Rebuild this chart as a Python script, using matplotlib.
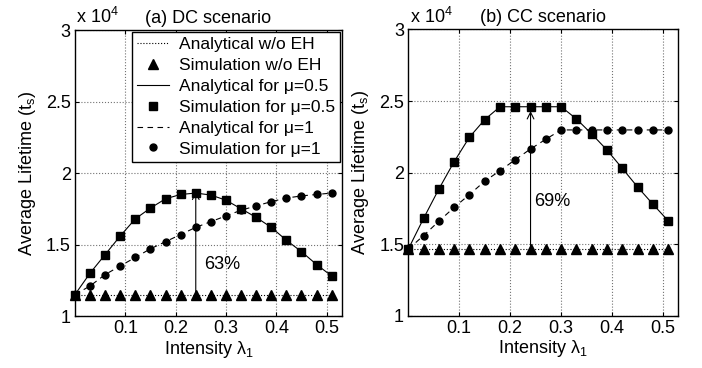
import matplotlib
matplotlib.use("Agg")
import matplotlib.pyplot as plt
import matplotlib.ticker as mticker
import numpy as np

plt.rcParams.update({
    "font.family": ["Liberation Sans", "DejaVu Sans"],
    "font.size": 13,
    "mathtext.fontset": "custom",
    "mathtext.rm": "Liberation Sans",
    "mathtext.it": "Liberation Sans",
})

# intensity lambda_1
lam = [0.00, 0.03, 0.06, 0.09, 0.12, 0.15, 0.18, 0.21, 0.24,
       0.27, 0.30, 0.33, 0.36, 0.39, 0.42, 0.45, 0.48, 0.51]

# (a) DC scenario, lifetime x 1e4
dc_no_eh = [1.15] * 18
dc_mu05 = [1.15, 1.30, 1.43, 1.56, 1.68, 1.755, 1.82, 1.85, 1.86,
           1.846, 1.81, 1.75, 1.69, 1.62, 1.53, 1.45, 1.36, 1.28]
dc_mu1 = [1.15, 1.21, 1.29, 1.35, 1.41, 1.47, 1.52, 1.57, 1.62,
          1.66, 1.70, 1.74, 1.77, 1.80, 1.825, 1.84, 1.85, 1.86]

# (b) CC scenario, lifetime x 1e4
cc_no_eh = [1.465] * 18
cc_mu05 = [1.465, 1.68, 1.885, 2.076, 2.247, 2.37, 2.46, 2.46, 2.46,
           2.46, 2.46, 2.375, 2.27, 2.158, 2.03, 1.90, 1.78, 1.664]
cc_mu1 = [1.465, 1.56, 1.66, 1.757, 1.846, 1.94, 2.013, 2.09, 2.165,
          2.233, 2.298, 2.298, 2.298, 2.298, 2.298, 2.298, 2.298, 2.298]

legend_labels = ["Analytical w/o EH", "Simulation w/o EH",
                 "Analytical for \u03bc=0.5", "Simulation for \u03bc=0.5",
                 "Analytical for \u03bc=1", "Simulation for \u03bc=1"]

fig = plt.figure(figsize=(7.02, 3.68), dpi=100)
ax1 = fig.add_axes([0.1068, 0.1413, 0.380, 0.777])
ax2 = fig.add_axes([0.5816, 0.1420, 0.3846, 0.778])


def draw(ax, no_eh, mu05, mu1, title, arrow_top, pct, pct_xy):
    h1, = ax.plot(lam, no_eh, ":", color="k", linewidth=0.8)
    h2, = ax.plot(lam, no_eh, "^", color="k", markersize=7, linestyle="none",
                  clip_on=False, zorder=4)
    h3, = ax.plot(lam, mu05, "-", color="k", linewidth=0.8)
    h4, = ax.plot(lam, mu05, "s", color="k", markersize=5.5, linestyle="none",
                  clip_on=False, zorder=4)
    h5, = ax.plot(lam, mu1, "--", color="k", linewidth=0.8, dashes=(5, 4))
    h6, = ax.plot(lam, mu1, "o", color="k", markersize=5, linestyle="none",
                  clip_on=False, zorder=4)

    ax.annotate("", xy=(0.24, arrow_top), xytext=(0.24, no_eh[8]),
                arrowprops=dict(arrowstyle="->", color="k", linewidth=0.8,
                                mutation_scale=12, shrinkA=0, shrinkB=0))
    ax.text(pct_xy[0], pct_xy[1], pct, fontsize=13, ha="left", va="center")

    ax.set_xlim(0, 0.53)
    ax.set_ylim(1, 3)
    ax.set_xticks([0.1, 0.2, 0.3, 0.4, 0.5])
    ax.set_yticks([1, 1.5, 2, 2.5, 3])
    ax.yaxis.set_major_formatter(mticker.FuncFormatter(lambda v, p: f"{v:g}"))
    ax.tick_params(direction="in", top=True, right=True, length=3,
                   width=0.8, labelsize=13, pad=3)
    ax.grid(True, linestyle=":", color="0.45", linewidth=0.8)
    for s in ax.spines.values():
        s.set_linewidth(1.0)
    ax.set_xlabel("Intensity \u03bb$_1$", fontsize=13, labelpad=1)
    ax.set_ylabel("Average Lifetime (t$_s$)", fontsize=13, labelpad=6)
    ax.set_title(title, fontsize=13, pad=5)
    ax.text(0.005, 1.01, "x 10$^4$", transform=ax.transAxes,
            fontsize=13, ha="left", va="bottom")
    return [h1, h2, h3, h4, h5, h6]


handles = draw(ax1, dc_no_eh, dc_mu05, dc_mu1, "(a) DC scenario",
               1.87, "63%", (0.256, 1.36))
draw(ax2, cc_no_eh, cc_mu05, cc_mu1, "(b) CC scenario",
     2.43, "69%", (0.248, 1.795))

leg = ax1.legend(handles, legend_labels, loc="upper right",
                 bbox_to_anchor=(1.0, 1.0), borderaxespad=0.1,
                 fontsize=12.5, frameon=True, fancybox=False,
                 handlelength=1.85, handletextpad=0.55, labelspacing=0.33,
                 borderpad=0.3)
leg.get_frame().set_edgecolor("k")
leg.get_frame().set_linewidth(1.0)
leg.get_frame().set_alpha(1)
leg.set_zorder(5)

fig.savefig("out.png", dpi=100)
